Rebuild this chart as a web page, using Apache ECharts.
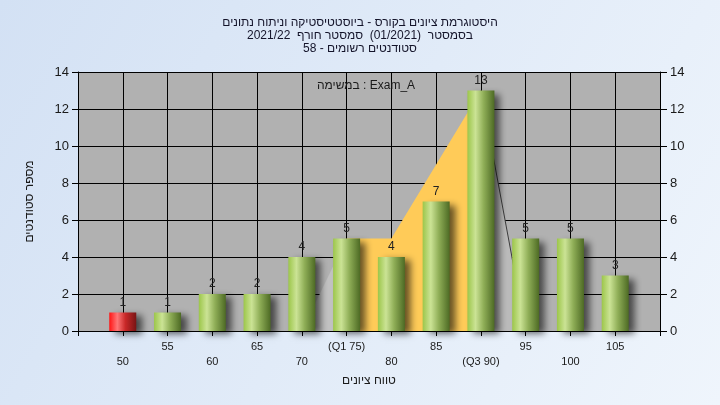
<!DOCTYPE html>
<html>
<head>
<meta charset="utf-8">
<script src="https://cdn.jsdelivr.net/npm/echarts@6/dist/echarts.min.js"></script>
<style>html,body{margin:0;padding:0;}#c{width:720px;height:405px;}</style>
</head>
<body>
<div id="c" dir="rtl"></div>
<script>
// ---- data ----
const titleLines = [
  'היסטוגרמת ציונים בקורס - ביוסטטיסטיקה וניתוח נתונים',
  'בסמסטר  (01/2021)  סמסטר חורף  2021/22',
  'סטודנטים רשומים - 58'
];
const taskLabel = 'Exam_A : במשימה';
const xAxisTitle = 'טווח ציונים';
const yAxisTitle = 'מספר סטודנטים';
const binStarts = [50, 55, 60, 65, 70, 75, 80, 85, 90, 95, 100, 105];
const counts    = [1, 1, 2, 2, 4, 5, 4, 7, 13, 5, 5, 3];
const failingBins = [50];
const quartileTicks = [75, 90];
const quartileNames = ['Q1', 'Q3'];
// distribution shape drawn behind the bars
const lowerTailX = [70, 75];
const lowerTailY = [0, 5];
const iqrX = [75, 80, 90];
const iqrY = [5, 5, 13];
const upperTailX = [90, 95];
const upperTailY = [13, 0];

// ---- chart ----
const FONT = "'Liberation Sans', Arial, 'DejaVu Sans', sans-serif";
const chart = echarts.init(document.getElementById('c'), null, {renderer: 'canvas'});

const greenGrad = new echarts.graphic.LinearGradient(0, 0, 1, 0, [
  {offset: 0, color: '#9cc64a'},
  {offset: 0.3, color: '#cbe395'},
  {offset: 0.6, color: '#8fae57'},
  {offset: 1, color: '#4d6a24'}
]);
const redGrad = new echarts.graphic.LinearGradient(0, 0, 1, 0, [
  {offset: 0, color: '#ff1414'},
  {offset: 0.3, color: '#ff7676'},
  {offset: 0.6, color: '#c82828'},
  {offset: 1, color: '#781414'}
]);

function pairs(xs, ys) { return xs.map((x, i) => [x, ys[i]]); }

const barData = binStarts.map((x, i) => ({
  value: [x, counts[i]],
  itemStyle: {color: failingBins.includes(x) ? redGrad : greenGrad}
}));

function xLabel(v) {
  if (v < binStarts[0] || v > binStarts[binStarts.length - 1]) return '';
  let txt = String(v);
  const qi = quartileTicks.indexOf(v);
  if (qi >= 0) txt = '(' + quartileNames[qi] + ' ' + v + ')';
  return (v % 10 === 0) ? '\n' + txt : txt;
}

const axisLabelStyle = {color: '#1a1a1a', fontFamily: FONT, fontSize: 13};

chart.setOption({
  animation: false,
  backgroundColor: new echarts.graphic.LinearGradient(0, 0, 1, 1, [
    {offset: 0, color: '#d3e1f4'},
    {offset: 1, color: '#eff5fc'}
  ]),
  title: {
    text: titleLines.join('\n'),
    left: 'center',
    top: 11,
    textStyle: {fontFamily: FONT, fontSize: 12, fontWeight: 'normal', lineHeight: 13, color: '#14142a'}
  },
  graphic: [{
    type: 'text',
    x: 366, y: 86,
    style: {text: taskLabel, fontFamily: FONT, fontSize: 12, fill: '#1a1a1a', align: 'center', verticalAlign: 'middle'},
    z: 100
  }],
  grid: {
    left: 78, right: 60, top: 72, bottom: 74,
    show: true, backgroundColor: '#b1b1b1', borderWidth: 0
  },
  xAxis: {
    type: 'value', min: 45, max: 110, interval: 5,
    name: xAxisTitle, nameLocation: 'middle', nameGap: 44,
    nameTextStyle: {fontFamily: FONT, fontSize: 12, color: '#1a1a1a'},
    axisLine: {show: true, onZero: false, lineStyle: {color: '#000', width: 1}},
    axisTick: {show: true, length: 5, lineStyle: {color: '#000'}},
    splitLine: {show: true, lineStyle: {color: '#000', width: 1}},
    axisLabel: {
      formatter: xLabel, margin: 8, lineHeight: 15,
      color: '#1a1a1a', fontFamily: FONT, fontSize: 11,
      showMinLabel: true, showMaxLabel: true
    }
  },
  yAxis: [{
    type: 'value', min: 0, max: 14, interval: 2, position: 'left',
    name: yAxisTitle, nameLocation: 'middle', nameGap: 42,
    nameTextStyle: {fontFamily: FONT, fontSize: 12, color: '#1a1a1a'},
    axisLine: {show: true, lineStyle: {color: '#000'}},
    axisTick: {show: true, length: 6, lineStyle: {color: '#000'}},
    splitLine: {show: true, lineStyle: {color: '#000', width: 1}},
    axisLabel: Object.assign({margin: 9}, axisLabelStyle)
  }, {
    type: 'value', min: 0, max: 14, interval: 2, position: 'right',
    axisLine: {show: true, lineStyle: {color: '#000'}},
    axisTick: {show: true, length: 7, lineStyle: {color: '#000'}},
    splitLine: {show: false},
    axisLabel: Object.assign({margin: 10}, axisLabelStyle)
  }],
  series: [{
    type: 'line', data: pairs(lowerTailX, lowerTailY), symbol: 'none', z: 1,
    lineStyle: {width: 0}, areaStyle: {color: '#c1c1c1', opacity: 1}
  }, {
    type: 'line', data: pairs(iqrX, iqrY), symbol: 'none', z: 1,
    lineStyle: {width: 0}, areaStyle: {color: '#ffcb58', opacity: 1}
  }, {
    type: 'line', data: pairs(upperTailX, upperTailY), symbol: 'none', z: 1,
    lineStyle: {width: 1, color: '#3c3c3c'}, areaStyle: {color: '#bababa', opacity: 1}
  }, {
    type: 'bar', data: barData, barWidth: 27, z: 3,
    itemStyle: {shadowBlur: 7, shadowOffsetX: 6, shadowOffsetY: 3, shadowColor: 'rgba(0,0,0,0.6)'},
    label: {show: true, position: 'top', distance: 4, color: '#222', fontFamily: FONT, fontSize: 12,
      formatter: p => p.value[1]}
  }]
});
</script>
</body>
</html>
